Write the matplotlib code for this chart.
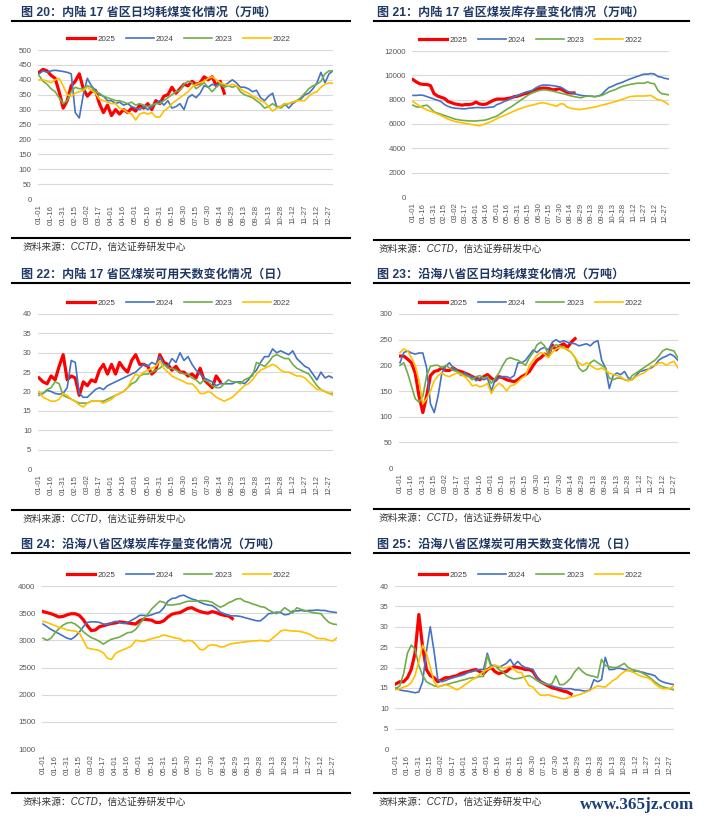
import numpy as np
import matplotlib
matplotlib.use('Agg')
import matplotlib.pyplot as plt
from matplotlib.lines import Line2D

plt.rcParams['font.family'] = ['Liberation Sans', 'Noto Sans CJK SC']

W, H = 703, 821

tick_labels = ['01-01', '01-16', '01-31', '02-15', '03-02', '03-17', '04-01', '04-16',
               '05-01', '05-16', '05-31', '06-15', '06-30', '07-15', '07-30', '08-14',
               '08-29', '09-13', '09-28', '10-13', '10-28', '11-12', '11-27', '12-12', '12-27']
years = ['2025', '2024', '2023', '2022']
colors = ['#FF0000', '#4472C4', '#70AD47', '#FFC000']
widths = [2.3, 1.2, 1.2, 1.2]
STEP = 5  # one reading every 5 days

# 图20 内陆17省区日均耗煤（万吨）
inland_use_2025 = [425, 435, 430, 415, 405, 360, 305, 330, 380, 395,
                   420, 370, 345, 360, 365, 320, 290, 315, 280, 300,
                   285, 300, 290, 305, 295, 315, 305, 320, 300, 330,
                   320, 345, 350, 375, 355, 370, 385, 380, 395, 385,
                   390, 410, 400, 410, 380, 395, 355]
inland_use_2024 = [420, 430, 425, 430, 432, 430, 428, 425, 420, 290,
                   272, 350, 405, 380, 365, 350, 345, 330, 330, 320,
                   325, 315, 320, 310, 305, 300, 310, 300, 310, 320,
                   330, 315, 330, 305, 310, 320, 300, 340, 350, 340,
                   355, 380, 375, 385, 380, 390, 380, 390, 400, 390,
                   375, 375, 370, 360, 365, 340, 330, 345, 355, 310,
                   310, 320, 305, 320, 330, 335, 350, 355, 370, 390,
                   425, 390, 420, 430]
inland_use_2023 = [415, 395, 385, 370, 360, 340, 320, 330, 360, 375,
                   370, 370, 380, 375, 360, 355, 345, 340, 335, 330,
                   330, 325, 320, 325, 315, 320, 315, 310, 315, 320,
                   320, 330, 340, 350, 360, 365, 385, 395, 390, 370,
                   380, 390, 375, 360, 375, 385, 375, 380, 375, 380,
                   360, 350, 345, 340, 330, 320, 305, 310, 320, 310,
                   305, 315, 320, 325, 330, 340, 355, 370, 380, 385,
                   395, 420, 430, 430]
inland_use_2022 = [400, 400, 395, 390, 400, 405, 380, 350, 345, 355,
                   360, 365, 375, 365, 355, 335, 330, 325, 320, 320,
                   305, 300, 290, 285, 265, 285, 290, 285, 290, 275,
                   275, 295, 305, 320, 330, 340, 350, 360, 375, 385,
                   390, 395, 405, 410, 400, 390, 385, 380, 385, 380,
                   370, 360, 355, 345, 340, 330, 325, 310, 295, 305,
                   310, 320, 320, 325, 330, 330, 330, 345, 355, 360,
                   375, 385, 390, 388]

# 图21 内陆17省区煤炭库存（万吨）
inland_stock_2025 = [9650, 9450, 9300, 9250, 9250, 9150, 8500, 8300, 8200, 8100,
                     7850, 7750, 7650, 7600, 7550, 7600, 7600, 7650, 7800, 7650,
                     7600, 7650, 7800, 7950, 8050, 8050, 8050, 8100, 8150, 8250,
                     8300, 8400, 8500, 8550, 8650, 8800, 8900, 8950, 8950, 8900,
                     8800, 8850, 8900, 8750, 8600, 8550, 8550]
inland_stock_2024 = [8350, 8350, 8380, 8350, 8250, 8150, 8050, 7950, 7850, 7600,
                     7450, 7350, 7300, 7280, 7250, 7250, 7300, 7320, 7350, 7350,
                     7330, 7350, 7380, 7400, 7600, 7700, 7850, 7950, 8100, 8250,
                     8350, 8480, 8600, 8680, 8750, 8950, 9100, 9200, 9200, 9180,
                     9150, 9100, 9050, 8900, 8700, 8600, 8500, 8420, 8350, 8320,
                     8300, 8280, 8250, 8300, 8450, 8750, 9000, 9100, 9250, 9350,
                     9450, 9580, 9700, 9800, 9900, 10000, 10100, 10100, 10150, 10100,
                     9900, 9850, 9750, 9700]
inland_stock_2023 = [7550, 7400, 7400, 7500, 7550, 7300, 7000, 6900, 6800, 6700,
                     6600, 6500, 6400, 6350, 6300, 6280, 6250, 6250, 6250, 6280,
                     6300, 6350, 6450, 6550, 6650, 6850, 7050, 7250, 7400, 7600,
                     7800, 8000, 8200, 8400, 8550, 8650, 8750, 8800, 8800, 8750,
                     8700, 8620, 8550, 8480, 8400, 8320, 8250, 8200, 8150, 8250,
                     8300, 8280, 8250, 8300, 8350, 8500, 8650, 8750, 8850, 9000,
                     9100, 9180, 9250, 9300, 9350, 9350, 9350, 9450, 9350, 9300,
                     8750, 8500, 8450, 8400]
inland_stock_2022 = [7850, 7650, 7450, 7300, 7150, 7050, 6950, 6820, 6700, 6550,
                     6400, 6300, 6200, 6150, 6100, 6050, 6000, 5950, 5900, 5850,
                     5950, 6050, 6150, 6300, 6450, 6580, 6700, 6820, 6950, 7080,
                     7200, 7300, 7400, 7480, 7550, 7620, 7700, 7750, 7700, 7620,
                     7550, 7450, 7650, 7650, 7400, 7300, 7250, 7200, 7200, 7250,
                     7300, 7350, 7400, 7480, 7550, 7620, 7700, 7780, 7850, 7950,
                     8050, 8150, 8250, 8280, 8300, 8300, 8300, 8320, 8350, 8150,
                     8000, 7950, 7800, 7600]

# 图22 内陆17省区煤炭可用天数（日）
inland_days_2025 = [23.5, 22.5, 22.0, 24.0, 23.0, 26.5, 29.5, 23.0, 24.0, 23.5,
                    19.0, 22.5, 21.5, 23.0, 22.5, 25.5, 27.0, 24.5, 27.0, 24.5,
                    27.5, 26.0, 25.0, 28.0, 29.5, 27.0, 27.0, 26.5, 24.5, 25.5,
                    29.5, 27.5, 27.0, 25.5, 26.5, 25.0, 25.0, 24.0, 24.5, 23.5,
                    26.0, 23.0, 22.0, 21.0, 24.0, 22.5]
inland_days_2024 = [19.5, 19.5, 20.3, 20.0, 19.5, 19.3, 19.5, 21.0, 28.0, 27.5,
                    19.5, 18.5, 18.5, 19.5, 20.5, 21.0, 20.5, 21.5, 22.0, 22.5,
                    23.0, 23.5, 24.0, 24.5, 25.0, 26.0, 27.0, 26.5, 27.5, 27.0,
                    29.0, 27.0, 26.5, 28.5, 27.5, 30.0, 28.0, 29.0, 27.0, 25.5,
                    24.5, 23.5, 23.0, 22.5, 21.5, 22.0, 22.0, 22.0, 22.0, 22.5,
                    22.5, 22.0, 23.0, 24.5, 25.5, 27.5, 29.0, 29.0, 31.0, 30.0,
                    30.5, 30.0, 29.5, 30.5, 28.5, 27.5, 26.5, 26.0, 24.5, 23.0,
                    25.0, 23.5, 24.0, 23.5]
inland_days_2023 = [19.0, 19.5, 20.5, 21.0, 22.5, 22.0, 19.0, 18.5, 18.0, 17.5,
                    17.0, 17.0, 17.0, 17.5, 17.5, 17.5, 17.5, 18.0, 18.5, 19.0,
                    19.5, 20.0, 21.0, 22.0, 22.5, 24.0, 24.5, 24.5, 25.0, 25.5,
                    26.0, 27.0, 26.0, 26.0, 25.5, 25.0, 24.5, 24.5, 23.5, 23.0,
                    22.0, 23.0, 22.5, 21.5, 21.0, 21.0, 22.0, 23.0, 22.5, 22.5,
                    22.0, 23.0, 23.5, 24.0, 27.5, 27.0, 26.5, 27.5, 29.0, 29.5,
                    29.0, 28.5, 28.5, 27.0, 26.0, 25.5, 25.0, 24.5, 23.0, 21.5,
                    20.5, 20.0, 19.5, 19.5]
inland_days_2022 = [20.0, 18.5, 18.0, 17.5, 17.5, 18.0, 19.5, 19.0, 18.0, 17.5,
                    16.5, 16.0, 17.0, 17.5, 17.5, 17.5, 17.0, 17.5, 18.0, 19.0,
                    19.5, 20.0, 21.0, 23.0, 24.5, 24.0, 25.0, 25.5, 26.0, 26.5,
                    28.0, 26.0, 25.0, 24.0, 23.5, 23.0, 22.5, 22.0, 22.0, 21.0,
                    19.5, 19.5, 20.0, 19.5, 18.5, 18.0, 17.5, 18.0, 18.5, 19.5,
                    20.5, 21.5, 22.0, 23.0, 24.5, 25.5, 26.0, 26.5, 27.0, 26.5,
                    25.5, 25.0, 25.0, 24.5, 24.0, 24.0, 23.5, 22.5, 21.5, 20.5,
                    20.5, 20.0, 19.5, 19.0]

# 图23 沿海八省区日均耗煤（万吨）
coast_use_2025 = [218, 218, 212, 205, 185, 140, 108, 140, 180, 188,
                  190, 195, 190, 190, 195, 190, 188, 185, 182, 178,
                  175, 172, 178, 182, 175, 170, 178, 176, 172, 170,
                  168, 172, 178, 182, 188, 200, 210, 215, 222, 218,
                  240, 230, 238, 242, 235, 245, 252]
coast_use_2024 = [205, 225, 228, 224, 222, 224, 224, 195, 125, 108,
                  140, 185, 198, 205, 195, 190, 180, 185, 180, 178,
                  170, 175, 172, 175, 150, 172, 175, 178, 178, 175,
                  180, 205, 205, 210, 220, 230, 225, 232, 235, 230,
                  245, 250, 245, 248, 245, 243, 242, 238, 240, 242,
                  238, 245, 248, 210, 195, 155, 180, 185, 182, 188,
                  175, 172, 180, 188, 190, 192, 195, 200, 210, 215,
                  218, 222, 218, 210]
coast_use_2023 = [200, 205, 185, 160, 135, 128, 140, 180, 198, 200,
                  200, 195, 200, 195, 190, 188, 185, 180, 178, 172,
                  178, 180, 175, 178, 165, 175, 185, 200, 212, 215,
                  212, 210, 205, 200, 215, 225, 240, 245, 238, 220,
                  235, 240, 238, 235, 230, 225, 215, 195, 188, 192,
                  205, 210, 205, 200, 195, 175, 172, 175, 175, 172,
                  170, 180, 185, 190, 195, 200, 205, 210, 218, 228,
                  232, 230, 228, 215]
coast_use_2022 = [225, 232, 228, 215, 200, 170, 125, 135, 150, 170,
                  180, 185, 180, 178, 182, 185, 182, 178, 170, 160,
                  162, 158, 160, 165, 145, 158, 165, 160, 150, 160,
                  162, 168, 175, 180, 200, 210, 220, 225, 222, 215,
                  225, 232, 235, 233, 232, 225, 215, 205, 200, 205,
                  200, 195, 192, 195, 190, 185, 182, 180, 178, 172,
                  170, 172, 178, 182, 185, 190, 198, 200, 205, 205,
                  200, 205, 208, 195]

# 图24 沿海八省区煤炭库存（万吨）
coast_stock_2025 = [3530, 3510, 3490, 3460, 3430, 3440, 3470, 3490, 3490, 3460,
                    3380, 3270, 3180, 3190, 3250, 3270, 3290, 3310, 3320, 3340,
                    3330, 3320, 3310, 3300, 3360, 3390, 3380, 3370, 3330, 3330,
                    3360, 3430, 3480, 3500, 3510, 3550, 3590, 3600, 3560, 3530,
                    3510, 3500, 3530, 3510, 3480, 3460, 3450, 3400]
coast_stock_2024 = [3300, 3250, 3200, 3160, 3120, 3080, 3040, 3020, 3070, 3150,
                    3250, 3330, 3340, 3340, 3330, 3300, 3290, 3320, 3350, 3330,
                    3310, 3330, 3370, 3410, 3460, 3460, 3450, 3470, 3500, 3520,
                    3600, 3720, 3770, 3780, 3820, 3830, 3790, 3760, 3740, 3700,
                    3670, 3650, 3640, 3590, 3520, 3490, 3460, 3450, 3450, 3440,
                    3420, 3400, 3380, 3360, 3360, 3420, 3490, 3500, 3520, 3510,
                    3470, 3480, 3540, 3540, 3550, 3540, 3550, 3550, 3560, 3550,
                    3550, 3530, 3520, 3510]
coast_stock_2023 = [3040, 3000, 3040, 3140, 3220, 3280, 3320, 3330, 3300, 3240,
                    3160, 3100, 3050, 3020, 2980, 2930, 2980, 3020, 3040, 3060,
                    3100, 3140, 3150, 3200, 3300, 3400, 3480, 3580, 3650, 3720,
                    3700, 3650, 3650, 3660, 3670, 3700, 3720, 3720, 3720, 3730,
                    3730, 3720, 3700, 3650, 3610, 3640, 3690, 3720, 3760, 3770,
                    3720, 3700, 3670, 3650, 3620, 3610, 3560, 3520, 3490, 3530,
                    3600, 3550, 3500, 3600, 3570, 3550, 3530, 3510, 3500, 3490,
                    3400, 3330, 3300, 3290]
coast_stock_2022 = [3350, 3330, 3300, 3270, 3240, 3220, 3190, 3180, 3170, 3140,
                    3000, 2860, 2840, 2830, 2810, 2770, 2670, 2650, 2760, 2800,
                    2830, 2860, 2900, 3000, 2990, 2980, 3010, 3030, 3050, 3070,
                    3100, 3080, 3060, 3040, 3030, 2980, 3000, 2990, 2920, 2830,
                    2830, 2900, 2920, 2910, 2880, 2880, 2920, 2940, 2950, 2960,
                    2970, 2980, 2990, 2990, 3000, 2990, 2980, 3040, 3100, 3170,
                    3190, 3180, 3170, 3170, 3160, 3140, 3120, 3080, 3040, 3030,
                    3030, 3000, 2990, 3050]

# 图25 沿海八省区煤炭可用天数（日）
coast_days_2025 = [16.0, 16.5, 16.5, 17.5, 19.5, 23.5, 33.0, 25.0, 19.5, 18.0,
                   17.5, 16.5, 17.0, 17.5, 17.5, 17.8, 18.0, 18.5, 18.8, 19.0,
                   19.3, 19.5, 19.0, 18.5, 19.5, 20.0, 19.0, 18.5, 18.8, 19.0,
                   19.8, 20.2, 20.0, 19.8, 19.5, 19.5, 19.0, 17.5, 16.5, 16.0,
                   15.5, 15.0, 14.8, 14.5, 14.2, 14.0, 13.5]
coast_days_2024 = [15.0, 14.5, 14.3, 14.2, 14.0, 13.8, 14.0, 16.5, 24.0, 30.0,
                   24.0, 17.0, 16.5, 16.8, 17.2, 17.5, 17.8, 18.0, 18.3, 18.8,
                   19.0, 19.3, 19.5, 19.5, 23.5, 20.5, 20.5, 20.0, 20.5, 21.0,
                   22.0, 20.5, 21.5, 20.5, 20.0, 19.8, 19.5, 17.5, 16.5, 16.2,
                   15.8, 15.5, 15.2, 15.0, 14.8, 14.8, 14.8, 14.5, 14.5, 14.3,
                   14.2, 14.5, 17.0, 16.5, 17.0, 22.5, 19.5, 19.5, 19.8, 19.8,
                   19.5, 19.3, 19.0, 19.2, 19.0, 18.8, 18.5, 18.3, 18.0, 17.0,
                   16.5, 16.2, 16.0, 15.8]
coast_days_2023 = [14.8, 15.5, 18.5, 23.5, 25.5, 24.5, 20.5, 18.0, 16.5, 16.0,
                   15.5, 15.3, 15.5, 15.8, 16.0, 16.3, 16.5, 16.8, 17.0, 17.3,
                   17.5, 17.5, 17.8, 17.8, 23.0, 20.0, 20.5, 19.5, 19.0, 18.0,
                   17.5, 17.2, 17.3, 17.5, 17.8, 18.0, 17.5, 16.8, 16.3, 16.0,
                   15.8, 16.0, 18.0, 15.8, 15.8, 16.5, 17.5, 19.0, 20.0, 19.0,
                   18.3, 18.0, 17.8, 17.5, 22.0, 20.5, 20.2, 20.0, 20.0, 20.5,
                   21.0, 20.0, 19.5, 19.3, 19.0, 18.5, 18.0, 17.3, 16.5, 15.8,
                   15.3, 15.0, 14.8, 14.5]
coast_days_2022 = [14.5, 14.8, 15.2, 15.5, 16.3, 18.0, 21.5, 25.5, 23.5, 20.0,
                   16.5, 15.2, 15.5, 15.7, 15.5, 15.0, 14.5, 15.0, 15.7, 16.3,
                   17.0, 17.5, 18.3, 19.0, 19.5, 20.0, 20.5, 20.3, 19.8, 20.0,
                   20.3, 19.5, 18.8, 18.8, 17.0, 15.5, 15.2, 14.0, 13.2, 13.2,
                   13.3, 13.0, 12.8, 12.5, 12.3, 12.5, 12.8, 13.0, 13.3, 13.6,
                   14.0, 14.4, 15.0, 15.5, 15.3, 15.2, 16.0, 16.8, 17.3, 18.3,
                   19.0, 19.3, 19.0, 18.5, 18.0, 17.7, 17.5, 17.0, 16.0, 15.3,
                   14.8, 14.8, 14.8, 15.5]

titles = ['图 20：内陆 17 省区日均耗煤变化情况（万吨）',
          '图 21：内陆 17 省区煤炭库存量变化情况（万吨）',
          '图 22：内陆 17 省区煤炭可用天数变化情况（日）',
          '图 23：沿海八省区日均耗煤变化情况（万吨）',
          '图 24：沿海八省区煤炭库存量变化情况（万吨）',
          '图 25：沿海八省区煤炭可用天数变化情况（日）']
source_text = '资料来源：CCTD，信达证券研发中心'

fig = plt.figure(figsize=(W / 100, H / 100), dpi=100)


def fx(px):
    return px / W


def fy(py):
    return 1 - py / H


def rule(x0, x1, y, lw=1.5):
    fig.add_artist(Line2D([fx(x0), fx(x1)], [fy(y), fy(y)], color='black', lw=lw,
                          transform=fig.transFigure))


def panel(title, series, yticks, geo):
    # geo: pixel layout of one panel
    x0, x1 = geo['day0'], geo['day360']
    scale = (x1 - x0) / 360
    left = x0 - 1.5 * scale
    right = left + 367 * scale
    top, bottom = geo['top'], geo['bottom']
    ax = fig.add_axes([fx(left), fy(bottom), fx(right - left), (bottom - top) / H])

    for name, vals, c, lw in zip(years, series, colors, widths):
        x = np.arange(len(vals)) * STEP
        ax.plot(x, vals, color=c, lw=lw, label=name, solid_joinstyle='round')

    ax.set_xlim(-1.5, 365.5)
    ax.set_ylim(yticks[0], yticks[-1])
    ax.set_yticks(yticks)
    ax.set_xticks(np.arange(0, 361, 15))
    ax.set_xticklabels(tick_labels, rotation=90)
    ax.tick_params(length=0, labelsize=5.7, labelcolor='#595959')
    ax.tick_params(axis='x', pad=4)
    ax.tick_params(axis='y', pad=4.5)
    ax.yaxis.grid(True, color='#D9D9D9', lw=0.8)
    ax.set_axisbelow(True)
    for s in ax.spines.values():
        s.set_visible(False)

    ax.legend(loc='center', bbox_to_anchor=(fx(geo['leg_x']), fy(top - 11)),
              bbox_transform=fig.transFigure, ncol=4, frameon=False, fontsize=5.8,
              handlelength=3.45, handletextpad=0.25, columnspacing=1.35,
              labelcolor='#404040')

    # title, rules and source line
    rule(geo['r0'], geo['r1'], geo['title_rule'])
    fig.text(fx(geo['tx']), fy(geo['title_rule'] - 8.5), title, fontsize=8.7,
             fontweight='bold', color='#1F3864', va='center', ha='left')
    rule(geo['r0'], geo['r1'], geo['src_rule'])
    fig.text(fx(geo['tx'] + 2), fy(geo['src_rule'] + 9), source_text, fontsize=7,
             style='italic', color='#333333', va='center', ha='left')
    return ax


left_col = dict(r0=12, r1=350, tx=21, leg_x=179)
right_col = dict(r0=374, r1=689, tx=377, leg_x=531)

panel(titles[0], [inland_use_2025, inland_use_2024, inland_use_2023, inland_use_2022],
      np.arange(0, 501, 50),
      dict(left_col, day0=39, day360=329, top=50, bottom=199, title_rule=21, src_rule=238))
panel(titles[1], [inland_stock_2025, inland_stock_2024, inland_stock_2023, inland_stock_2022],
      np.arange(0, 12001, 2000),
      dict(right_col, day0=413, day360=665, top=51, bottom=197, title_rule=21, src_rule=240))
panel(titles[2], [inland_days_2025, inland_days_2024, inland_days_2023, inland_days_2022],
      np.arange(0, 41, 5),
      dict(left_col, day0=39, day360=329, top=314, bottom=469, title_rule=283, src_rule=510))
panel(titles[3], [coast_use_2025, coast_use_2024, coast_use_2023, coast_use_2022],
      np.arange(0, 301, 50),
      dict(right_col, day0=400, day360=674, top=314, bottom=468, title_rule=283, src_rule=509))
panel(titles[4], [coast_stock_2025, coast_stock_2024, coast_stock_2023, coast_stock_2022],
      np.arange(1000, 4001, 500),
      dict(left_col, day0=43, day360=333, top=586, bottom=749, title_rule=553, src_rule=793))
panel(titles[5], [coast_days_2025, coast_days_2024, coast_days_2023, coast_days_2022],
      np.arange(0, 41, 5),
      dict(right_col, day0=396, day360=670, top=586, bottom=749, title_rule=553, src_rule=793))

fig.text(fx(580), fy(805), 'www.365jz.com', fontsize=12.3, fontweight='bold',
         family='Liberation Serif', color='#1B3F78', va='center', ha='left')

fig.savefig('out.png', dpi=100)
